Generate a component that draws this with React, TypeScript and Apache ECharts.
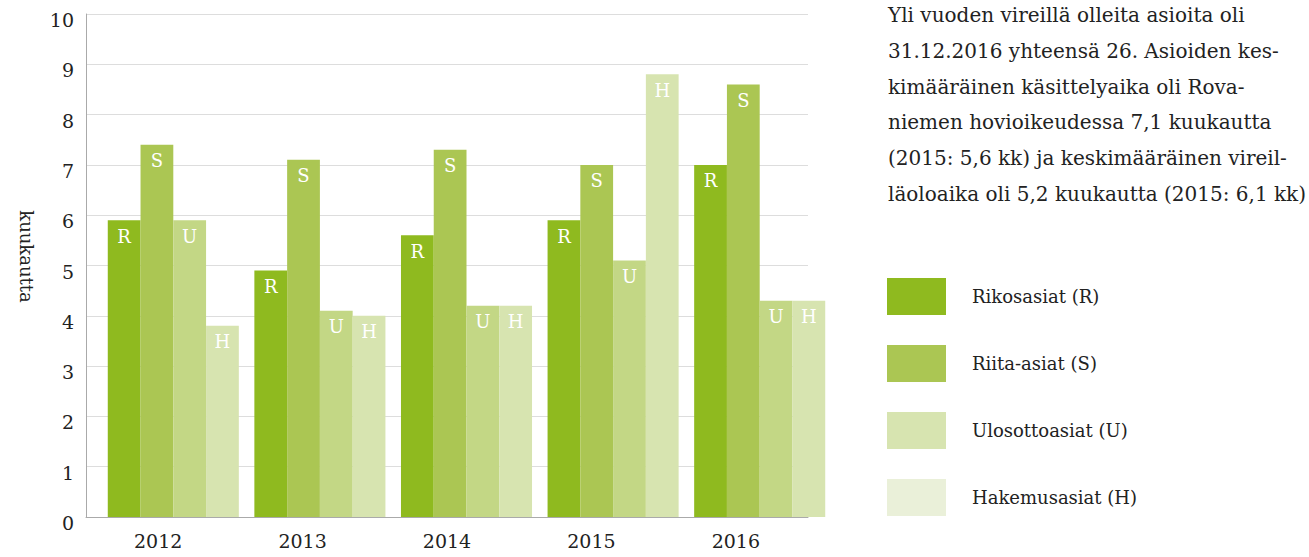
import React, { useEffect, useRef } from "react";
import * as echarts from "echarts";

const years = ["2012", "2013", "2014", "2015", "2016"];
const rikos = [5.9, 4.9, 5.6, 5.9, 7.0];
const riita = [7.4, 7.1, 7.3, 7.0, 8.6];
const ulosotto = [5.9, 4.1, 4.2, 5.1, 4.3];
const hakemus = [3.8, 4.0, 4.2, 8.8, 4.3];
const seriesNames = ["Rikosasiat (R)", "Riita-asiat (S)", "Ulosottoasiat (U)", "Hakemusasiat (H)"];
const seriesLetters = ["R", "S", "U", "H"];
const barColors = ["#8fba1f", "#abc653", "#c3d785", "#d7e4b0"];
const legendColors = ["#8fba1f", "#abc653", "#d7e4b0", "#eaf0d9"];
const yTicks = [0, 10, 1];
const paragraph = [
  "Yli vuoden vireillä olleita asioita oli",
  "31.12.2016 yhteensä 26. Asioiden kes-",
  "kimääräinen käsittelyaika oli Rova-",
  "niemen hovioikeudessa 7,1 kuukautta",
  "(2015: 5,6 kk) ja keskimääräinen vireil-",
  "läoloaika oli 5,2 kuukautta (2015: 6,1 kk)",
];

const FONT = "DejaVu Serif";

export default function App() {
  const ref = useRef<HTMLDivElement>(null);
  useEffect(() => {
    document.body.style.margin = "0";
    const chart = echarts.init(ref.current!, null, { renderer: "svg" });
    const values = [rikos, riita, ulosotto, hakemus];
    const option: any = {
      animation: false,
      grid: [
        { left: 100, right: 476, top: 14, bottom: 40 },
        { left: 86, right: 501, top: 14, bottom: 40 },
      ],
      xAxis: [
        { type: "category", gridIndex: 0, data: years, show: false },
        {
          type: "category",
          gridIndex: 1,
          data: years,
          axisLine: { lineStyle: { color: "#aaaaaa", width: 1 } },
          axisTick: { show: false },
          axisLabel: { fontFamily: FONT, fontSize: 19, color: "#222", margin: 14 },
        },
      ],
      yAxis: [
        { type: "value", gridIndex: 0, min: yTicks[0], max: yTicks[1], interval: yTicks[2], show: false },
        {
          type: "value",
          gridIndex: 1,
          min: yTicks[0],
          max: yTicks[1],
          interval: yTicks[2],
          axisLine: { show: true, lineStyle: { color: "#aaaaaa", width: 1 } },
          axisTick: { show: false },
          splitLine: { lineStyle: { color: "#dddddd", width: 1 } },
          axisLabel: {
            fontFamily: FONT,
            fontSize: 19,
            color: "#222",
            margin: 12,
            verticalAlign: "top",
            lineHeight: 12,
          },
          name: "kuukautta",
          nameLocation: "middle",
          nameRotate: -90,
          nameGap: 51,
          nameTextStyle: { fontFamily: FONT, fontSize: 18, color: "#222", padding: [0, 18, 0, 0] },
        },
      ],
      legend: {
        orient: "vertical",
        left: 887,
        top: 278,
        padding: 0,
        itemWidth: 59,
        itemHeight: 37,
        itemGap: 30,
        icon: "rect",
        selectedMode: false,
        textStyle: { fontFamily: FONT, fontSize: 18, color: "#222", padding: [0, 0, 0, 21] },
        data: seriesNames.map((n, i) => ({ name: n, itemStyle: { color: legendColors[i] } })),
      },
      series: seriesNames.map((n, i) => ({
        name: n,
        type: "bar",
        xAxisIndex: 0,
        yAxisIndex: 0,
        data: values[i],
        barGap: "0%",
        barCategoryGap: "10.6%",
        itemStyle: { color: barColors[i] },
        label: {
          show: true,
          position: "insideTop",
          distance: 7,
          formatter: () => seriesLetters[i],
          color: "#ffffff",
          fontFamily: FONT,
          fontSize: 18,
        },
      })),
      graphic: paragraph.map((line, i) => ({
        type: "text",
        left: 888,
        top: 5 + i * 35.8,
        style: { text: line, fontFamily: FONT, fontSize: 20, fill: "#222" },
      })),
    };
    chart.setOption(option);
    return () => chart.dispose();
  }, []);
  return <div ref={ref} style={{ width: 1309, height: 557 }} />;
}
